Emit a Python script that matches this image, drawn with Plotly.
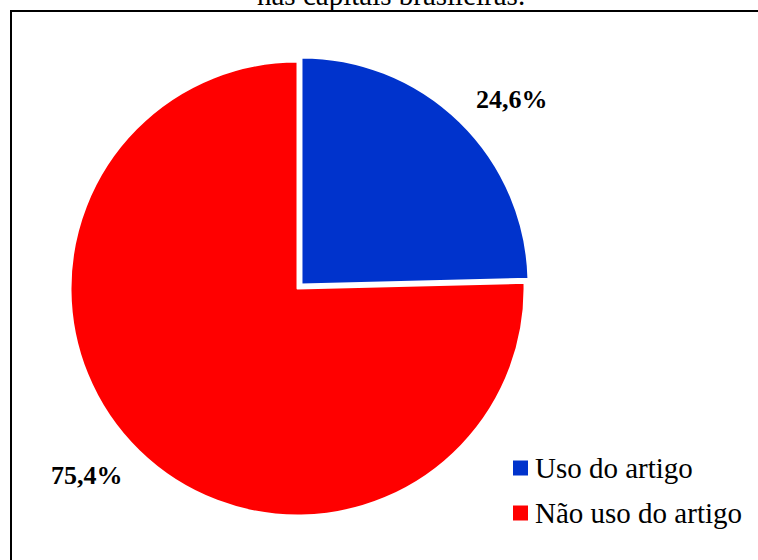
import plotly.graph_objects as go

# Share of article use before personal names
categories = ["Uso do artigo", "Não uso do artigo"]
values = [24.6, 75.4]
colors = ["#0033CC", "#FF0000"]
pulls = [0.025, 0]
title_text = "nas capitais brasileiras."

W, H = 758, 560
SERIF = "Liberation Serif, Times New Roman, serif"

fig = go.Figure(
    go.Pie(
        labels=categories,
        values=values,
        sort=False,
        direction="clockwise",
        rotation=0,
        pull=pulls,
        marker=dict(colors=colors, line=dict(color="white", width=2)),
        textinfo="none",
        hoverinfo="label+percent",
        domain=dict(x=[0.0855, 0.6995], y=[0.0693, 0.9004]),
        showlegend=False,
    )
)

def fmt(v):
    return f"{v:.1f}".replace(".", ",") + "%"

# value labels placed beside their slices
label_pos = [(512, 99), (87, 475)]
annotations = []
for v, (px, py) in zip(values, label_pos):
    annotations.append(dict(
        x=px / W, y=1 - py / H, xref="paper", yref="paper",
        text=f"<b>{fmt(v)}</b>", showarrow=False,
        xanchor="center", yanchor="middle",
        font=dict(family=SERIF, size=26, color="black"),
    ))

# legend drawn as colored squares with text
shapes = []
legend_rows = [468, 513]
for name, col, ry in zip(categories, colors, legend_rows):
    shapes.append(dict(
        type="rect", xref="paper", yref="paper",
        x0=513 / W, x1=528 / W, y0=1 - (ry + 7.5) / H, y1=1 - (ry - 7.5) / H,
        fillcolor=col, line=dict(width=0),
    ))
    annotations.append(dict(
        x=533 / W, y=1 - ry / H, xref="paper", yref="paper",
        text=name, showarrow=False, xanchor="left", yanchor="middle",
        font=dict(family=SERIF, size=29, color="black"),
    ))

# chart title (second line)
annotations.append(dict(
    x=391 / W, y=1 - 13 / H, xref="paper", yref="paper",
    text=title_text, showarrow=False, xanchor="center", yanchor="bottom",
    font=dict(family=SERIF, size=29, color="black"),
))

# frame around the chart area
shapes.append(dict(
    type="rect", xref="paper", yref="paper",
    x0=11 / W, x1=1.05, y0=-0.05, y1=1 - 11 / H,
    line=dict(color="black", width=2), fillcolor="rgba(0,0,0,0)",
))

fig.update_layout(
    width=W, height=H,
    margin=dict(l=0, r=0, t=0, b=0),
    paper_bgcolor="white", plot_bgcolor="white",
    annotations=annotations, shapes=shapes,
)

fig.write_html("out.html")
